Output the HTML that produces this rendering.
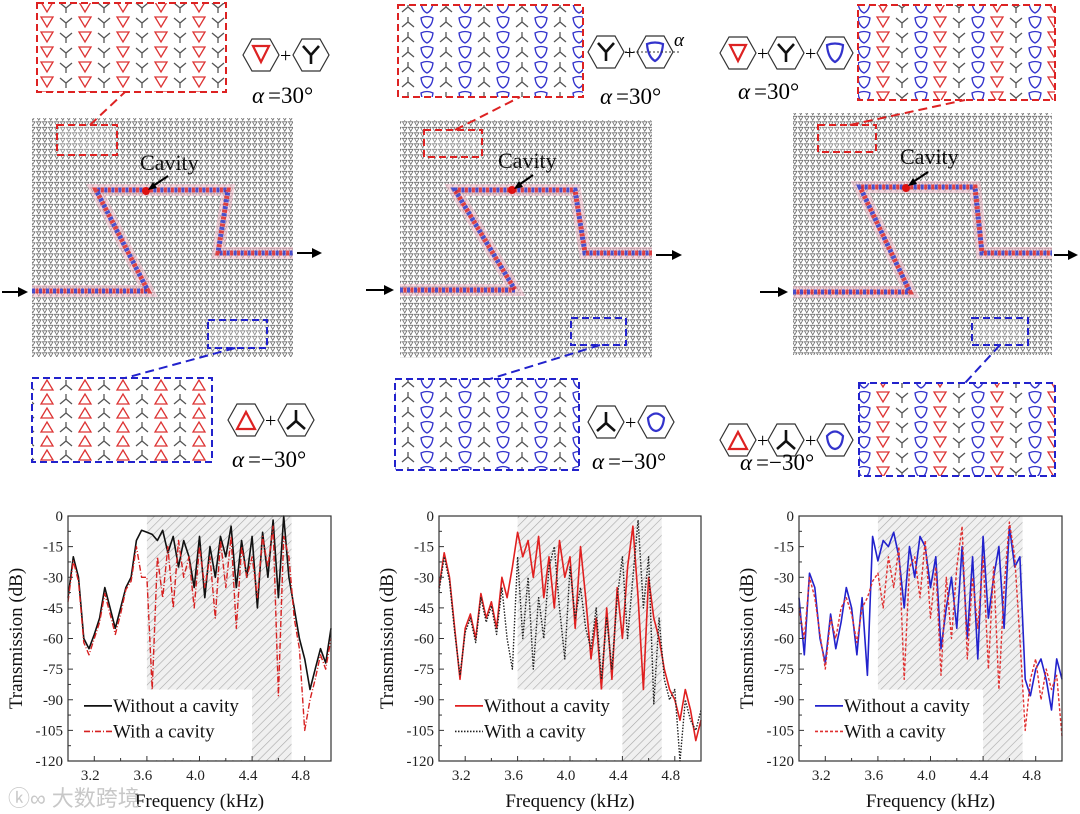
<!DOCTYPE html>
<html><head><meta charset="utf-8">
<style>
html,body{margin:0;padding:0;background:#fff;}
svg{display:block;font-family:"Liberation Serif","Noto Serif CJK SC",serif;}
</style></head>
<body>
<svg id="fig" width="1080" height="814" viewBox="0 0 1080 814" xmlns="http://www.w3.org/2000/svg">
<defs>
  <pattern id="latt" width="6" height="5.5" patternUnits="userSpaceOnUse">
    <path d="M0.5,0.8 L5,0.8 L2.75,4.8 Z" fill="none" stroke="#6a6a6a" stroke-width="0.8"/>
  </pattern>
  <pattern id="insRed" width="38" height="15" patternUnits="userSpaceOnUse">
    <path d="M3,2 L15,2 L9,12 Z" fill="none" stroke="#d33" stroke-width="1.3"/>
    <path d="M22,3 L28,8 L34,3 M28,8 L28,13" fill="none" stroke="#555" stroke-width="1.3"/>
  </pattern>
  <pattern id="insRedUp" width="38" height="14" patternUnits="userSpaceOnUse">
    <path d="M3,12 L15,12 L9,2 Z" fill="none" stroke="#d33" stroke-width="1.3"/>
    <path d="M22,12 L28,7 L34,12 M28,7 L28,2" fill="none" stroke="#555" stroke-width="1.3"/>
  </pattern>
  <pattern id="insBlue" width="38" height="15" patternUnits="userSpaceOnUse">
    <path d="M3,3 Q9,0 15,3 Q14,11 9,13 Q4,11 3,3 Z" fill="none" stroke="#33c" stroke-width="1.3"/>
    <path d="M22,12 L28,7 L34,12 M28,7 L28,2" fill="none" stroke="#555" stroke-width="1.3"/>
  </pattern>
  <pattern id="insMix" width="57" height="15" patternUnits="userSpaceOnUse">
    <path d="M3,3 Q9,0 15,3 Q14,11 9,13 Q4,11 3,3 Z" fill="none" stroke="#33c" stroke-width="1.3"/>
    <path d="M22,2 L34,2 L28,12 Z" fill="none" stroke="#d33" stroke-width="1.3"/>
    <path d="M41,3 L47,8 L53,3 M47,8 L47,13" fill="none" stroke="#555" stroke-width="1.3"/>
  </pattern>
  <pattern id="hatch" width="6" height="6" patternUnits="userSpaceOnUse" patternTransform="rotate(45)">
    <rect width="6" height="6" fill="#f0f0f0"/>
    <line x1="0" y1="0" x2="0" y2="6" stroke="#a8a8a8" stroke-width="1.2"/>
  </pattern>
</defs>

<!-- ===== Panel 1 ===== -->
<g>
  <rect x="32" y="118" width="261" height="239" fill="url(#latt)"/>
  <path d="M32,291 L148,291 L96,190 L228,190 L218,253 L293,253" fill="none" stroke="#f4b8c8" stroke-width="12" opacity="0.5"/>
  <path d="M32,291 L148,291 L96,190 L228,190 L218,253 L293,253" fill="none" stroke="#2233cc" stroke-width="5" stroke-dasharray="3 4" opacity="0.8"/>
  <path d="M32,291 L148,291 L96,190 L228,190 L218,253 L293,253" fill="none" stroke="#dd2222" stroke-width="5" stroke-dasharray="3 4" stroke-dashoffset="3.5" opacity="0.8"/>
  <rect x="57" y="125" width="60" height="30" fill="#fff" fill-opacity="0.2" stroke="#d22" stroke-width="2" stroke-dasharray="7 4"/>
  <rect x="208" y="320" width="59" height="28" fill="#fff" fill-opacity="0.2" stroke="#22c" stroke-width="2" stroke-dasharray="7 4"/>
  <line x1="90" y1="125" x2="125" y2="92" stroke="#d22" stroke-width="2" stroke-dasharray="9 5"/>
  <line x1="235" y1="348" x2="125" y2="378" stroke="#22c" stroke-width="2" stroke-dasharray="9 5"/>
  <circle cx="146" cy="191" r="4" fill="#d11"/>
  <line x1="168" y1="176" x2="150" y2="188" stroke="#000" stroke-width="2"/>
  <path d="M148,190 l9,-2 l-4,-6 Z" fill="#000"/>
  <text x="140" y="170" font-size="22" fill="#111">Cavity</text>
  <path d="M2,292 L24,292" stroke="#000" stroke-width="2"/><path d="M28,292 l-10,-5 l0,10 Z" fill="#000"/>
  <path d="M297,253 L318,253" stroke="#000" stroke-width="2"/><path d="M322,253 l-10,-5 l0,10 Z" fill="#000"/>
</g>
<g>
  <rect x="37" y="3" width="189" height="89" fill="url(#insRed)" stroke="#d22" stroke-width="2" stroke-dasharray="7 4"/>
</g>
<g>
  <rect x="32" y="378" width="180" height="84" fill="url(#insRedUp)" stroke="#22c" stroke-width="2" stroke-dasharray="7 4"/>
</g>
<g>
  <polygon points="243,55 252,39 270,39 279,55 270,71 252,71" fill="none" stroke="#333" stroke-width="1.2"/>
  <path d="M253,46 L269,46 L261,62 Z" fill="none" stroke="#d22" stroke-width="2.2"/>
  <text x="280" y="62" font-size="20">+</text>
  <polygon points="293,55 302,39 320,39 329,55 320,71 302,71" fill="none" stroke="#333" stroke-width="1.2"/>
  <path d="M303,46 L311,55 L319,46 M311,55 L311,64" fill="none" stroke="#111" stroke-width="2.6"/>
  <text x="252" y="103" font-size="23" font-style="italic">α</text><text x="268" y="103" font-size="23">=30°</text>
</g>
<g>
  <polygon points="228,420 237,404 255,404 264,420 255,436 237,436" fill="none" stroke="#333" stroke-width="1.2"/>
  <path d="M237,429 L255,429 L246,412 Z" fill="none" stroke="#d22" stroke-width="2.2"/>
  <text x="265" y="427" font-size="20">+</text>
  <polygon points="278,420 287,404 305,404 314,420 305,436 287,436" fill="none" stroke="#333" stroke-width="1.2"/>
  <path d="M287,429 L296,421 L305,429 M296,421 L296,410" fill="none" stroke="#111" stroke-width="2.6"/>
  <text x="232" y="467" font-size="23" font-style="italic">α</text><text x="248" y="467" font-size="23">=−30°</text>
</g>

<!-- ===== Panel 2 ===== -->
<g>
  <rect x="400" y="120" width="252" height="238" fill="url(#latt)"/>
  <path d="M400,290 L515,290 L455,190 L575,190 L585,253 L652,253" fill="none" stroke="#f4b8c8" stroke-width="12" opacity="0.5"/>
  <path d="M400,290 L515,290 L455,190 L575,190 L585,253 L652,253" fill="none" stroke="#2233cc" stroke-width="5" stroke-dasharray="3 4" opacity="0.8"/>
  <path d="M400,290 L515,290 L455,190 L575,190 L585,253 L652,253" fill="none" stroke="#dd2222" stroke-width="5" stroke-dasharray="3 4" stroke-dashoffset="3.5" opacity="0.8"/>
  <rect x="424" y="130" width="58" height="27" fill="#fff" fill-opacity="0.2" stroke="#d22" stroke-width="2" stroke-dasharray="7 4"/>
  <rect x="571" y="318" width="55" height="27" fill="#fff" fill-opacity="0.2" stroke="#22c" stroke-width="2" stroke-dasharray="7 4"/>
  <line x1="455" y1="130" x2="520" y2="97" stroke="#d22" stroke-width="2" stroke-dasharray="9 5"/>
  <line x1="600" y1="345" x2="490" y2="379" stroke="#22c" stroke-width="2" stroke-dasharray="9 5"/>
  <circle cx="512" cy="190" r="4" fill="#d11"/>
  <line x1="533" y1="175" x2="516" y2="187" stroke="#000" stroke-width="2"/>
  <path d="M514,189 l9,-2 l-4,-6 Z" fill="#000"/>
  <text x="498" y="168" font-size="22" fill="#111">Cavity</text>
  <path d="M366,290 L388,290" stroke="#000" stroke-width="2"/><path d="M394,290 l-10,-5 l0,10 Z" fill="#000"/>
  <path d="M656,255 L676,255" stroke="#000" stroke-width="2"/><path d="M682,255 l-10,-5 l0,10 Z" fill="#000"/>
</g>
<g>
  <rect x="398" y="5" width="185" height="92" fill="url(#insBlue)" stroke="#d22" stroke-width="2" stroke-dasharray="7 4"/>
</g>
<g>
  <rect x="395" y="379" width="184" height="91" fill="url(#insBlue)" stroke="#22c" stroke-width="2" stroke-dasharray="7 4"/>
</g>
<g>
  <polygon points="588,52 597,36 615,36 624,52 615,68 597,68" fill="none" stroke="#333" stroke-width="1.2"/>
  <path d="M598,43 L606,52 L614,43 M606,52 L606,61" fill="none" stroke="#111" stroke-width="2.6"/>
  <text x="624" y="59" font-size="20">+</text>
  <polygon points="637,52 646,36 664,36 673,52 664,68 646,68" fill="none" stroke="#333" stroke-width="1.2"/>
  <path d="M647,44 Q655,41 663,44 Q662,57 655,61 Q648,57 647,44 Z" fill="none" stroke="#33c" stroke-width="2.2"/>
  <line x1="625" y1="52" x2="680" y2="52" stroke="#333" stroke-dasharray="2 2"/>
  <text x="674" y="46" font-size="19" font-style="italic">α</text>
  <text x="600" y="104" font-size="23" font-style="italic">α</text><text x="616" y="104" font-size="23">=30°</text>
</g>
<g>
  <polygon points="588,422 597,406 615,406 624,422 615,438 597,438" fill="none" stroke="#333" stroke-width="1.2"/>
  <path d="M597,431 L606,423 L615,431 M606,423 L606,412" fill="none" stroke="#111" stroke-width="2.6"/>
  <text x="625" y="429" font-size="20">+</text>
  <polygon points="638,422 647,406 665,406 674,422 665,438 647,438" fill="none" stroke="#333" stroke-width="1.2"/>
  <path d="M648,418 Q656,409 664,418 Q663,430 656,431 Q649,430 648,418 Z" fill="none" stroke="#33c" stroke-width="2.2"/>
  <text x="592" y="469" font-size="23" font-style="italic">α</text><text x="608" y="469" font-size="23">=−30°</text>
</g>

<!-- ===== Panel 3 ===== -->
<g>
  <rect x="793" y="113" width="259" height="242" fill="url(#latt)"/>
  <path d="M793,292 L910,292 L860,187 L975,187 L982,253 L1052,253" fill="none" stroke="#f4b8c8" stroke-width="12" opacity="0.5"/>
  <path d="M793,292 L910,292 L860,187 L975,187 L982,253 L1052,253" fill="none" stroke="#2233cc" stroke-width="5" stroke-dasharray="3 4" opacity="0.8"/>
  <path d="M793,292 L910,292 L860,187 L975,187 L982,253 L1052,253" fill="none" stroke="#dd2222" stroke-width="5" stroke-dasharray="3 4" stroke-dashoffset="3.5" opacity="0.8"/>
  <rect x="818" y="125" width="58" height="27" fill="#fff" fill-opacity="0.2" stroke="#d22" stroke-width="2" stroke-dasharray="7 4"/>
  <rect x="972" y="318" width="56" height="27" fill="#fff" fill-opacity="0.2" stroke="#22c" stroke-width="2" stroke-dasharray="7 4"/>
  <line x1="850" y1="125" x2="965" y2="100" stroke="#d22" stroke-width="2" stroke-dasharray="9 5"/>
  <line x1="1000" y1="345" x2="965" y2="383" stroke="#22c" stroke-width="2" stroke-dasharray="9 5"/>
  <circle cx="906" cy="188" r="4" fill="#d11"/>
  <line x1="928" y1="172" x2="910" y2="184" stroke="#000" stroke-width="2"/>
  <path d="M908,186 l9,-2 l-4,-6 Z" fill="#000"/>
  <text x="900" y="164" font-size="22" fill="#111">Cavity</text>
  <path d="M760,292 L782,292" stroke="#000" stroke-width="2"/><path d="M788,292 l-10,-5 l0,10 Z" fill="#000"/>
  <path d="M1054,255 L1072,255" stroke="#000" stroke-width="2"/><path d="M1078,255 l-10,-5 l0,10 Z" fill="#000"/>
</g>
<g>
  <rect x="858" y="5" width="197" height="95" fill="url(#insMix)" stroke="#d22" stroke-width="2" stroke-dasharray="7 4"/>
</g>
<g>
  <rect x="859" y="383" width="196" height="93" fill="url(#insMix)" stroke="#22c" stroke-width="2" stroke-dasharray="7 4"/>
</g>
<g>
  <polygon points="720,53 729,37 747,37 756,53 747,69 729,69" fill="none" stroke="#333" stroke-width="1.2"/>
  <path d="M730,45 L746,45 L738,61 Z" fill="none" stroke="#d22" stroke-width="2.2"/>
  <text x="757" y="60" font-size="20">+</text>
  <polygon points="768,53 777,37 795,37 804,53 795,69 777,69" fill="none" stroke="#333" stroke-width="1.2"/>
  <path d="M778,44 L786,53 L794,44 M786,53 L786,62" fill="none" stroke="#111" stroke-width="2.6"/>
  <text x="805" y="60" font-size="20">+</text>
  <polygon points="817,53 826,37 844,37 853,53 844,69 826,69" fill="none" stroke="#333" stroke-width="1.2"/>
  <path d="M827,45 Q835,42 843,45 Q842,58 835,62 Q828,58 827,45 Z" fill="none" stroke="#33c" stroke-width="2.2"/>
  <text x="738" y="99" font-size="23" font-style="italic">α</text><text x="754" y="99" font-size="23">=30°</text>
</g>
<g>
  <polygon points="720,440 729,424 747,424 756,440 747,456 729,456" fill="none" stroke="#333" stroke-width="1.2"/>
  <path d="M729,449 L747,449 L738,432 Z" fill="none" stroke="#d22" stroke-width="2.2"/>
  <text x="757" y="447" font-size="20">+</text>
  <polygon points="768,440 777,424 795,424 804,440 795,456 777,456" fill="none" stroke="#333" stroke-width="1.2"/>
  <path d="M777,449 L786,441 L795,449 M786,441 L786,430" fill="none" stroke="#111" stroke-width="2.6"/>
  <text x="805" y="447" font-size="20">+</text>
  <polygon points="817,440 826,424 844,424 853,440 844,456 826,456" fill="none" stroke="#333" stroke-width="1.2"/>
  <path d="M827,436 Q835,427 843,436 Q842,448 835,449 Q828,448 827,436 Z" fill="none" stroke="#33c" stroke-width="2.2"/>
  <text x="740" y="470" font-size="23" font-style="italic">α</text><text x="756" y="470" font-size="23">=−30°</text>
</g>

<g id="charts"></g>
<text x="8" y="806" font-size="22" fill="#c8c8c8" font-family="'Liberation Sans','Noto Sans CJK SC',sans-serif">ⓚ∞ 大数跨境</text>
</svg>

<script>
const freqs = [3.00,3.04,3.08,3.12,3.16,3.20,3.24,3.28,3.32,3.36,3.40,3.44,3.48,3.52,3.56,3.60,3.64,3.68,3.72,3.76,3.80,3.84,3.88,3.92,3.96,4.00,4.04,4.08,4.12,4.16,4.20,4.24,4.28,4.32,4.36,4.40,4.44,4.48,4.52,4.56,4.60,4.64,4.68,4.72,4.76,4.80,4.84,4.88,4.92,4.96,5.00];
const xTicks = [3.2,3.6,4.0,4.4,4.8];
const xTickLabels = ["3.2","3.6","4.0","4.4","4.8"];
const yTicks = [0,-15,-30,-45,-60,-75,-90,-105,-120];
const yTickLabels = ["0","-15","-30","-45","-60","-75","-90","-105","-120"];
const band = [3.6,4.7];

const c1Without = [-40,-20,-30,-60,-65,-58,-50,-35,-45,-55,-45,-35,-30,-12,-7,-8,-9,-12,-7,-18,-10,-25,-12,-20,-35,-10,-40,-15,-30,-10,-20,-5,-35,-12,-30,-10,-45,-8,-30,-2,-40,0,-30,-45,-60,-70,-85,-75,-65,-72,-55];
const c1With = [-42,-22,-32,-62,-68,-60,-52,-38,-48,-58,-48,-36,-32,-15,-30,-30,-85,-20,-40,-15,-45,-12,-30,-20,-45,-15,-35,-20,-50,-12,-35,-10,-55,-15,-30,-20,-40,-10,-25,-5,-88,-10,-20,-50,-65,-105,-90,-80,-68,-75,-60];
const c2Without = [-35,-18,-30,-55,-80,-55,-48,-60,-38,-50,-42,-55,-30,-40,-25,-8,-20,-12,-30,-10,-40,-20,-45,-12,-30,-20,-55,-15,-40,-70,-50,-85,-45,-80,-35,-60,-25,-5,-40,-85,-30,-50,-60,-75,-85,-90,-100,-85,-95,-110,-100];
const c2With = [-37,-20,-32,-57,-78,-57,-50,-62,-40,-52,-44,-58,-35,-60,-75,-20,-60,-30,-75,-40,-60,-25,-15,-45,-70,-25,-50,-35,-55,-65,-45,-80,-50,-75,-40,-20,-60,-30,-2,-45,-20,-92,-50,-80,-90,-85,-120,-90,-100,-105,-95];
const c3Without = [-40,-68,-28,-35,-60,-72,-48,-65,-52,-35,-45,-68,-40,-78,-10,-22,-12,-15,-8,-20,-45,-15,-30,-10,-15,-35,-20,-65,-45,-30,-55,-15,-60,-20,-70,-10,-50,-30,-15,-55,-5,-25,-20,-80,-88,-75,-70,-80,-95,-70,-80];
const c3With = [-45,-60,-30,-40,-58,-75,-50,-60,-45,-40,-48,-62,-45,-40,-32,-28,-45,-20,-35,-15,-80,-25,-20,-40,-12,-50,-25,-78,-30,-60,-25,-5,-70,-30,-55,-20,-75,-25,-85,-35,-3,-20,-60,-105,-80,-70,-90,-75,-85,-78,-108];

const NS="http://www.w3.org/2000/svg";
const root=document.getElementById('charts');
function mk(tag,attrs,parent){const e=document.createElementNS(NS,tag);for(const k in attrs)e.setAttribute(k,attrs[k]);(parent||root).appendChild(e);return e;}

function drawChart(idx,L,R,T,B,s1,s2,c1,c2,dash2,names){
  const g=mk('g',{});
  
  
  const xs=f=>L+(f-3.0)/2.0*(R-L);
  const ys=v=>T+(0-v)/120*(B-T);
  const hb=mk('rect',{x:xs(band[0]),y:T,width:xs(band[1])-xs(band[0]),height:B-T,fill:'url(#hatch)'},g);
  
  
  function line(vals,color,dash,w,name){
    const d=vals.map((v,i)=>(i?'L':'M')+xs(freqs[i]).toFixed(1)+','+ys(v).toFixed(1)).join(' ');
    const p=mk('path',{d:d,fill:'none',stroke:color,'stroke-width':w,'stroke-dasharray':dash||'none','stroke-linejoin':'round'},g);
    
    
  }
  line(s1,c1,null,1.6,'series-without-cavity');
  line(s2,c2,dash2,1.4,'series-with-cavity');
  const lb=mk('rect',{x:L+1,y:ys(-85),width:xs(4.4)-L-1,height:B-ys(-85)-1,fill:'#fff'},g);
  
  
  const ly1=ys(-93), ly2=ys(-105.5);
  mk('line',{x1:L+16,y1:ly1,x2:L+44,y2:ly1,stroke:c1,'stroke-width':1.8},g);
  mk('line',{x1:L+16,y1:ly2,x2:L+44,y2:ly2,stroke:c2,'stroke-width':1.6,'stroke-dasharray':dash2},g);
  const t1=mk('text',{x:L+45,y:ly1+6,'font-size':19,fill:'#111'},g);t1.textContent=names[0];
  
  
  const t2=mk('text',{x:L+45,y:ly2+6,'font-size':19,fill:'#111'},g);t2.textContent=names[1];
  
  
  mk('rect',{x:L,y:T,width:R-L,height:B-T,fill:'none',stroke:'#333','stroke-width':1.2},g);
  yTicks.forEach((v,i)=>{
    mk('line',{x1:L,y1:ys(v),x2:L+5,y2:ys(v),stroke:'#333'},g);
    if(i<yTicks.length-1) mk('line',{x1:L,y1:ys(v-7.5),x2:L+3,y2:ys(v-7.5),stroke:'#333'},g);
    const t=mk('text',{x:L-5,y:ys(v)+5,'font-size':15,'text-anchor':'end',fill:'#222'},g);
    t.textContent=yTickLabels[i];
    
    
  });
  xTicks.forEach((f,i)=>{
    mk('line',{x1:xs(f),y1:B,x2:xs(f),y2:B-5,stroke:'#333'},g);
    mk('line',{x1:xs(f-0.2),y1:B,x2:xs(f-0.2),y2:B-3,stroke:'#333'},g);
    const t=mk('text',{x:xs(f)-4,y:B+19,'font-size':15,'text-anchor':'middle',fill:'#222'},g);
    t.textContent=xTickLabels[i];
    
    
  });
  const xt=mk('text',{x:(L+R)/2,y:B+46,'font-size':19,'text-anchor':'middle',fill:'#111'},g);
  xt.textContent='Frequency (kHz)';
  
  
  const yt=mk('text',{x:0,y:0,'font-size':19,'text-anchor':'middle',fill:'#111',transform:'translate('+(L-46)+','+((T+B)/2)+') rotate(-90)'},g);
  yt.textContent='Transmission (dB)';
  
  
}
drawChart(1,68,331,516,761,c1Without,c1With,'#111','#d62020','6 2 1 2',['Without a cavity','With a cavity']);
drawChart(2,439,701,516,761,c2Without,c2With,'#e02020','#222','1.5 1.5',['Without a cavity','With a cavity']);
drawChart(3,799,1062,516,761,c3Without,c3With,'#2222cc','#e03030','3 2',['Without a cavity','With a cavity']);
</script>
</body></html>
